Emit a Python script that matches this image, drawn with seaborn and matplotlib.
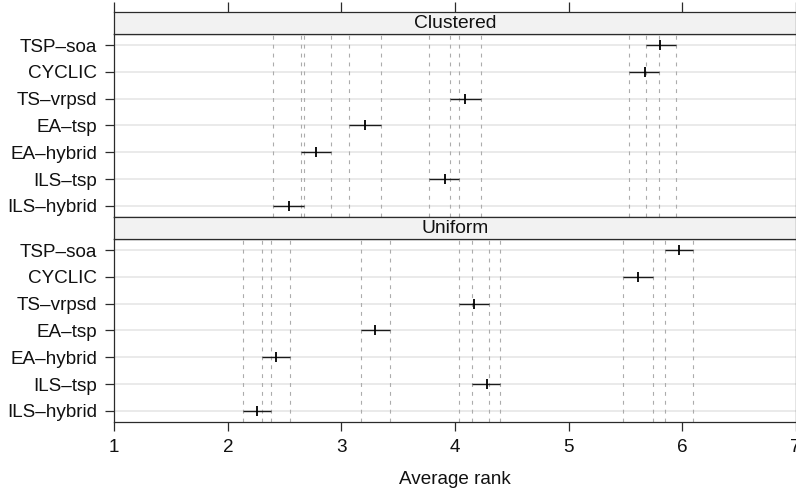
import numpy as np
import pandas as pd
import matplotlib
matplotlib.use("Agg")
import matplotlib.pyplot as plt
import seaborn as sns

# Average ranks with interval ends
methods = ["TSP–soa", "CYCLIC", "TS–vrpsd", "EA–tsp", "EA–hybrid", "ILS–tsp", "ILS–hybrid"]
layouts = ["Clustered", "Uniform"]

clustered_rank = [5.81, 5.67, 4.09, 3.21, 2.78, 3.91, 2.54]
clustered_lo = [5.68, 5.53, 3.96, 3.07, 2.64, 3.77, 2.40]
clustered_hi = [5.95, 5.80, 4.23, 3.35, 2.91, 4.04, 2.67]

uniform_rank = [5.97, 5.61, 4.17, 3.30, 2.42, 4.28, 2.26]
uniform_lo = [5.85, 5.48, 4.04, 3.17, 2.30, 4.15, 2.13]
uniform_hi = [6.10, 5.74, 4.30, 3.43, 2.55, 4.40, 2.38]

x_ticks = [1, 2, 3, 4, 5, 6, 7]

df = pd.concat([
    pd.DataFrame({"layout": "Clustered", "method": methods, "pos": np.arange(len(methods)),
                  "rank": clustered_rank, "lo": clustered_lo, "hi": clustered_hi}),
    pd.DataFrame({"layout": "Uniform", "method": methods, "pos": np.arange(len(methods)),
                  "rank": uniform_rank, "lo": uniform_lo, "hi": uniform_hi}),
], ignore_index=True)

sns.set_style("white")
plt.rcParams["font.family"] = ["Liberation Sans", "DejaVu Sans"]
fs = 13.6
plt.rcParams["font.size"] = fs

frame_col = "#2b2b2b"
text_col = "#111111"


def draw_panel(data, **kws):
    ax = plt.gca()
    # light row guides
    for p in data["pos"]:
        ax.axhline(p, color="#e4e4e4", lw=1.1, zorder=0)
    # dashed lines at every interval end
    for v in np.concatenate([data["lo"].values, data["hi"].values]):
        ax.axvline(v, color="#acacac", lw=0.8, ls=(0, (3.5, 4.5)), zorder=1)
    ax.hlines(data["pos"], data["lo"], data["hi"], color="#1a1a1a", lw=1.0, zorder=2)
    sns.scatterplot(data=data, x="rank", y="pos", marker="|", s=62, color="black",
                    linewidth=1.3, ax=ax, zorder=3)


g = sns.FacetGrid(df, row="layout", row_order=layouts, sharex=True, sharey=True,
                  height=2.4, aspect=3.2, despine=False)
g.map_dataframe(draw_panel)

fig = g.figure
fig.set_size_inches(7.96, 4.92)
fig.subplots_adjust(left=0.1436, right=0.9995, top=0.9303, bottom=0.1429, hspace=0.1239)
g.set_titles("")

for i, ax in enumerate(g.axes.flat):
    ax.set_xlim(1, 7)
    ax.set_ylim(len(methods) - 0.6, -0.4)
    ax.set_yticks(range(len(methods)))
    ax.set_yticklabels(methods)
    ax.set_xticks(x_ticks)
    ax.set_ylabel("")
    for s in ax.spines.values():
        s.set_color(frame_col)
        s.set_linewidth(0.9)
    ax.tick_params(axis="y", left=True, length=6.5, width=0.9, color=frame_col, pad=6,
                   labelsize=fs, labelcolor=text_col)
    if i == 0:
        ax.tick_params(axis="x", bottom=False, labelbottom=False)
        ax.set_xlabel("")
    else:
        ax.tick_params(axis="x", bottom=True, length=6.5, width=0.9, color=frame_col, pad=6,
                       labelsize=fs, labelcolor=text_col)
        ax.set_xlabel("Average rank", fontsize=fs, labelpad=10.5, color=text_col)

# strip headers
for i, name in enumerate(layouts):
    pb = g.axes.flat[i].get_position()
    sh = 22.6 / 492
    sax = fig.add_axes([pb.x0, pb.y1, pb.width, sh])
    sax.set_facecolor("#f2f2f2")
    sax.set_xlim(1, 7)
    sax.set_ylim(0, 1)
    sax.set_yticks([])
    for s in sax.spines.values():
        s.set_color(frame_col)
        s.set_linewidth(0.9)
    sax.text(4, 0.47, name, ha="center", va="center", fontsize=fs + 0.3, color=text_col)
    if i == 0:
        sax.set_xticks(x_ticks)
        sax.tick_params(axis="x", top=True, bottom=False, labeltop=False, labelbottom=False,
                        length=7, width=0.9, color=frame_col)
    else:
        sax.set_xticks([])

fig.savefig("out.png", dpi=100)
